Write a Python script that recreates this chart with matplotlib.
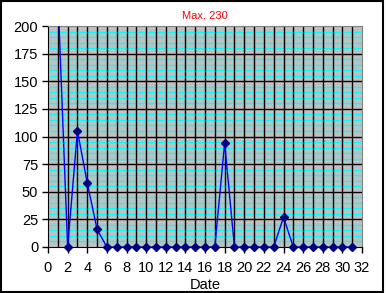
import matplotlib.pyplot as plt
import numpy as np

days = list(range(1, 32))
counts = [230, 0, 105, 58, 16, 0, 0, 0, 0, 0, 0, 0, 0, 0, 0, 0, 0, 94,
          0, 0, 0, 0, 0, 27, 0, 0, 0, 0, 0, 0, 0]
max_val = max(counts)

plt.rcParams['font.family'] = ['Liberation Sans', 'DejaVu Sans']

fig = plt.figure(figsize=(3.86, 2.93), dpi=100)
ax = fig.add_axes([48/386, 46/293, 314/386, 221/293])
ax.set_facecolor('#c0c0c0')

ax.set_xlim(0, 32)
ax.set_ylim(0, 200)
ax.set_xticks(np.arange(0, 33, 2))
ax.set_yticks(np.arange(0, 201, 25))

# cyan minor horizontal lines, black major grid
for y in np.arange(0, 201, 5):
    if y % 25:
        ax.axhline(y, color='#00ffff', lw=1, zorder=1)
for y in np.arange(25, 200, 25):
    ax.axhline(y, color='black', lw=1, zorder=1)
for x in range(1, 32):
    ax.axvline(x, color='black', lw=1, zorder=1)

ax.plot(days, counts, color='#0000ff', lw=1, zorder=3)
# markers only for points inside the value range, not clipped at the axis
vis = [(d, c) for d, c in zip(days, counts) if c <= 200]
ax.plot([d for d, c in vis], [c for d, c in vis], ls='none', marker='D',
        markersize=4.5, markerfacecolor='#000080', markeredgecolor='#000080',
        zorder=4, clip_on=False)

for s in ax.spines.values():
    s.set_color('#808080')
ax.spines['left'].set_color('black')
ax.spines['bottom'].set_color('black')

ax.tick_params(axis='both', which='major', direction='out', length=4,
               width=1, labelsize=10.5, colors='black')
ax.tick_params(axis='x', pad=6)
ax.tick_params(axis='y', pad=3)

ax.set_xlabel('Date', fontsize=10.5, labelpad=2)
fig.text(205/386, 1 - 16/293, 'Max. %d' % max_val, color='#ff0000',
         fontsize=8, ha='center', va='center')

fig.patches.append(plt.Rectangle((0.002, 0.003), 0.99, 0.993,
                                 transform=fig.transFigure, fill=False,
                                 edgecolor='black', lw=1.5))

fig.savefig('out.png', dpi=100)
